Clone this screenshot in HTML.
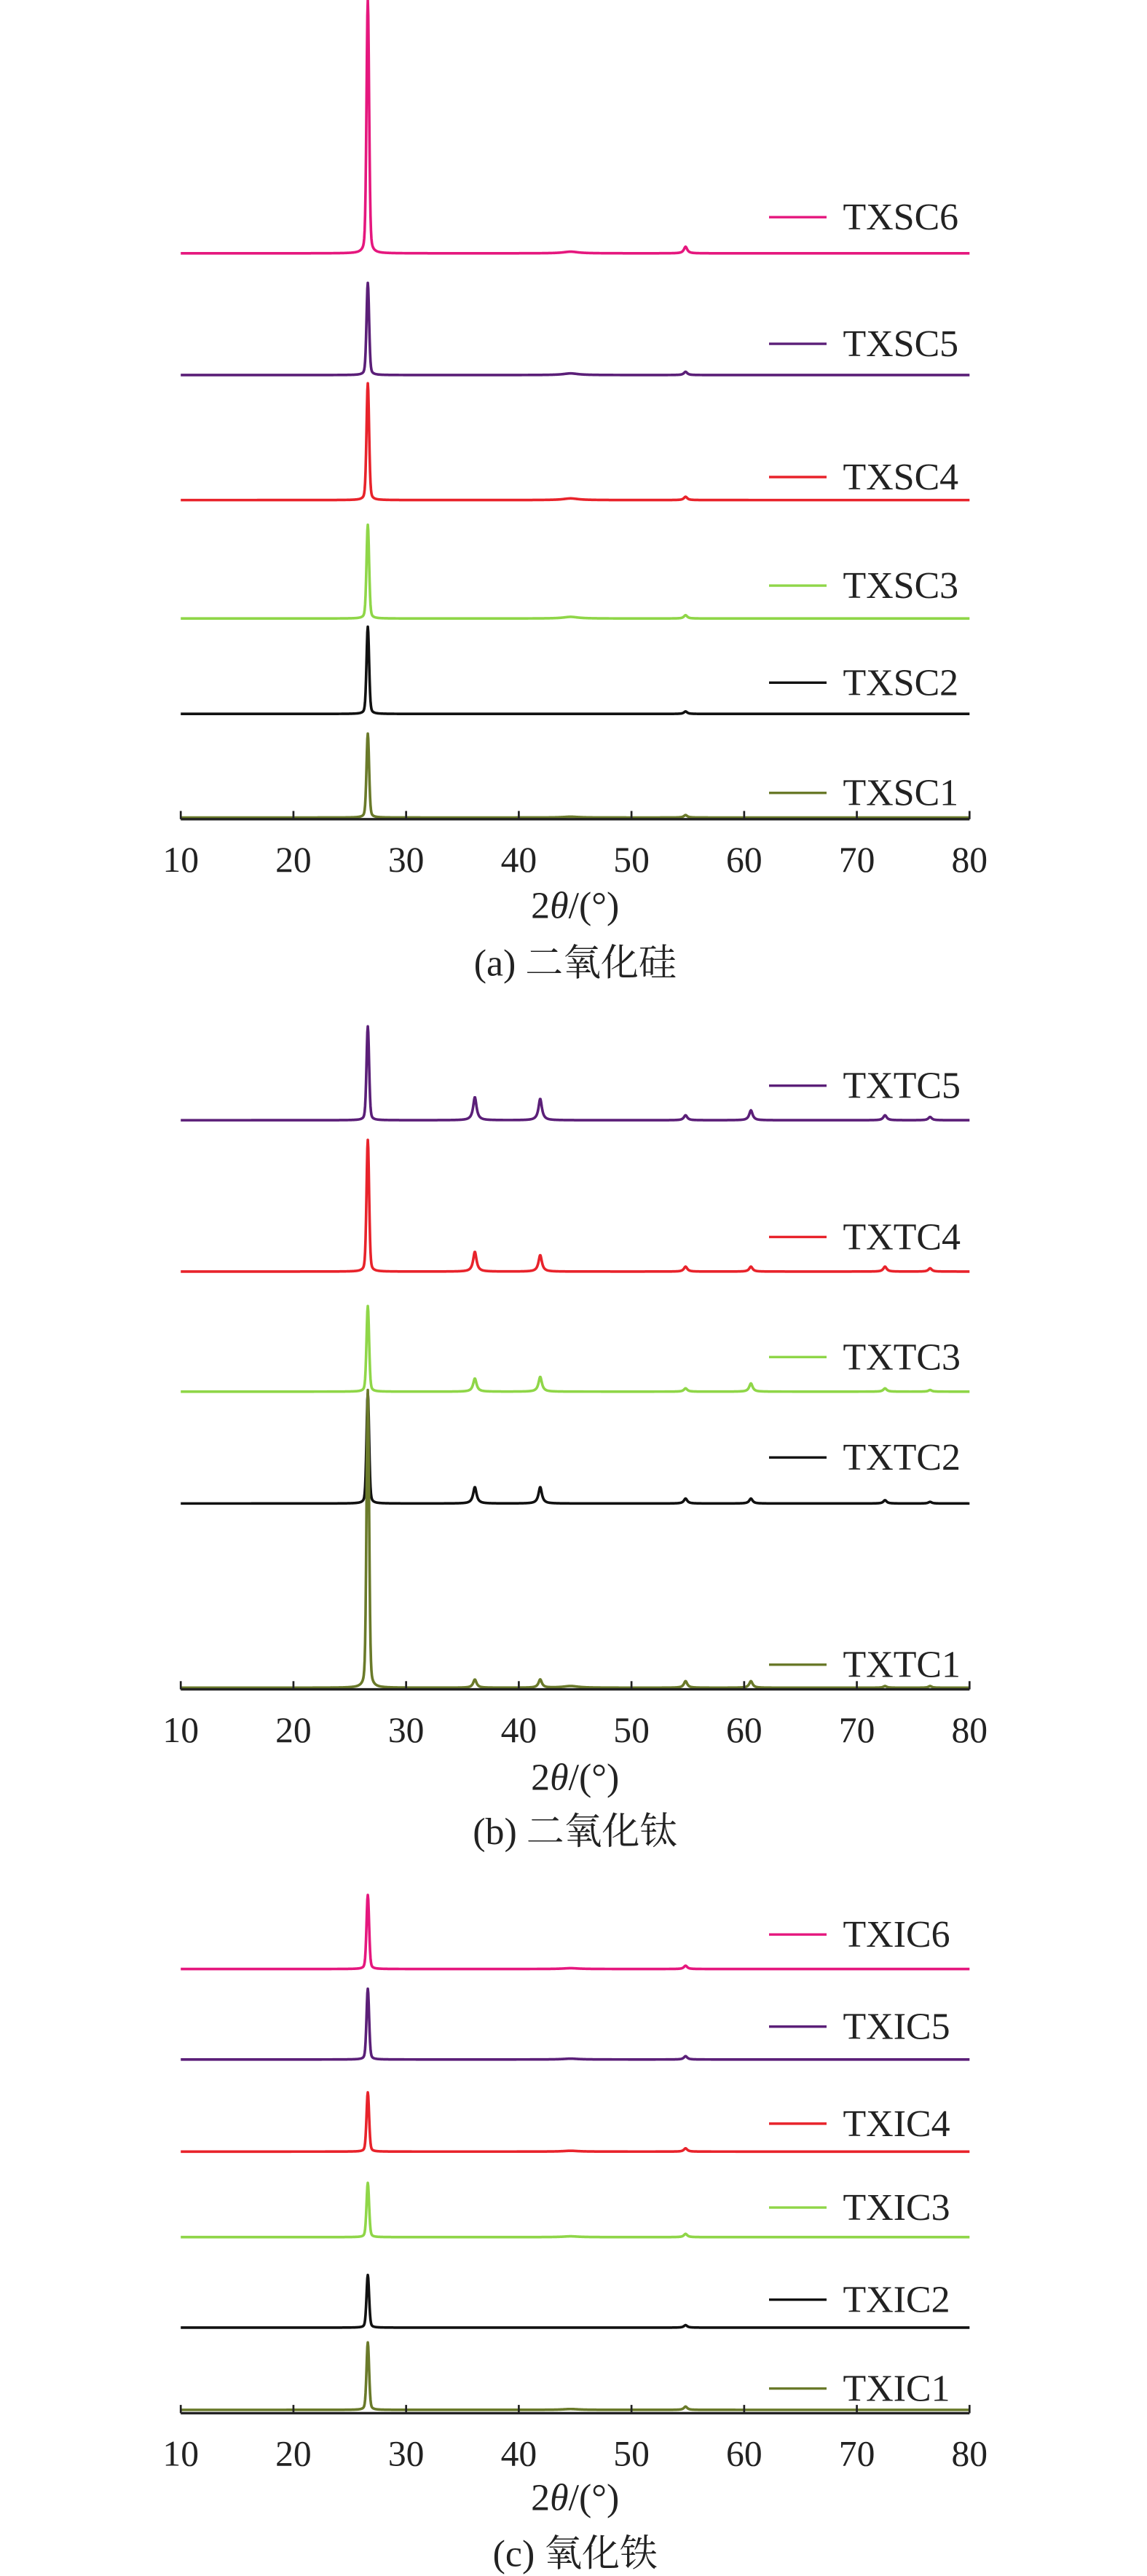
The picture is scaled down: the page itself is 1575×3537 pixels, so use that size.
<!DOCTYPE html>
<html><head><meta charset="utf-8"><style>
html,body{margin:0;padding:0;background:#fff;}
svg{display:block;}
text{font-family:"Liberation Serif","Noto Serif CJK SC",serif;fill:#222;}
</style></head><body>
<svg id="fig" width="1575" height="3537" viewBox="0 0 698 1566" preserveAspectRatio="none" xmlns="http://www.w3.org/2000/svg"></svg>
<script>
// ---- data ----
const ticks = [10,20,30,40,50,60,70,80];
const peakPos = [26.6, 36.1, 41.9, 44.6, 54.8, 60.6, 72.5, 76.5];
// panel a (SiO2)
const aNames = ["TXSC6","TXSC5","TXSC4","TXSC3","TXSC2","TXSC1"];
const aBase = [154,228,304,376,434,497];
const aMain = [154,56,71,57,53,51];
const aMinor = [[0,0,0,1,4,0,0,0],[0,0,0,1,2,0,0,0],[0,0,0,1,2,0,0,0],[0,0,0,1,2,0,0,0],[0,0,0,0,1.5,0,0,0],[0,0,0,0.5,1.5,0,0,0]];
const aLegY = [132,209,290,356,415,482];
// panel b (TiO2)
const bNames = ["TXTC5","TXTC4","TXTC3","TXTC2","TXTC1"];
const bBase = [681,773,846,914,1026];
const bMain = [57,80,52,67,181];
const bMinor = [[0,14,13,0,3,6,3,2],[0,12,10,0,3,3,3,2],[0,8,9,0,2,5,2,1],[0,10,10,0,3,3,2,1],[0,5,5,1,4,4,1,1]];
const bLegY = [660,752,825,886,1012];
// panel c (Fe oxide)
const cNames = ["TXIC6","TXIC5","TXIC4","TXIC3","TXIC2","TXIC1"];
const cBase = [1197,1252,1308,1360,1415,1465];
const cMain = [45,43,36,33,32,41];
const cMinor = [[0,0,0,0.5,2,0,0,0],[0,0,0,0.5,2,0,0,0],[0,0,0,0.5,2,0,0,0],[0,0,0,0.5,2,0,0,0],[0,0,0,0,1.5,0,0,0],[0,0,0,0.5,2,0,0,0]];
const cLegY = [1176,1232,1291,1342,1398,1452];
const colors6 = ["#e5177e","#5b1f78","#e8232b","#8fd648","#111111","#6a7a2a"];
const colors5 = ["#5b1f78","#e8232b","#8fd648","#111111","#6a7a2a"];

const svg = document.getElementById('fig');
const NS = "http://www.w3.org/2000/svg";
const X0=110, X1=590;
function xs(v){ return X0 + (v-10)*(X1-X0)/70; }
function mk(tag, attrs){ const e=document.createElementNS(NS,tag); for(const k in attrs) e.setAttribute(k,attrs[k]); svg.appendChild(e); return e; }

function profile(x, main, minor){
  const g = Math.exp(-Math.pow((x-peakPos[0])/0.16,2));
  let y = main*(0.75*g + 0.25/(1+Math.pow((x-peakPos[0])/0.15,2)));
  for(let i=1;i<peakPos.length;i++){
    const w = i===3 ? 0.8 : 0.18;
    y += minor[i]/(1+Math.pow((x-peakPos[i])/w,2));
  }
  return y;
}

function panel(key, names, base, main, minor, legY, colors, axisY){
  names.forEach((n,i)=>{
    let d="";
    for(let v=10; v<=80.001; v+=0.04){
      const y = base[i] - profile(v, main[i], minor[i]);
      d += (d?"L":"M") + xs(v).toFixed(2) + "," + y.toFixed(2);
    }
    const p = mk('path',{d:d,fill:"none",stroke:colors[i],"stroke-width":1.6,"stroke-linejoin":"round"});
    
    
    const l = mk('line',{x1:468,x2:503,y1:legY[i],y2:legY[i],stroke:colors[i],"stroke-width":1.5});
    
    
    const t = mk('text',{x:513,y:legY[i]+7.5,"font-size":23});
    t.textContent = n;
    
    
  });
  const ax = mk('line',{x1:X0,x2:X1,y1:axisY,y2:axisY,stroke:"#222","stroke-width":1.5});
  
  
  ticks.forEach(v=>{
    const tk = mk('line',{x1:xs(v),x2:xs(v),y1:axisY,y2:axisY-5,stroke:"#222","stroke-width":1.2});
    
    
    const tl = mk('text',{x:xs(v),y:axisY+32,"font-size":22,"text-anchor":"middle"});
    tl.textContent = v;
    
    
  });
}
panel('a', aNames, aBase, aMain, aMinor, aLegY, colors6, 498);
panel('b', bNames, bBase, bMain, bMinor, bLegY, colors5, 1027);
panel('c', cNames, cBase, cMain, cMinor, cLegY, colors6, 1467);

function label(y, html, name){
  const t = mk('text',{x:350,y:y,"font-size":23,"text-anchor":"middle"});
  t.innerHTML = html;
  
  
}
label(558, '2<tspan font-style="italic">θ</tspan>/(°)', 'a-x-axis-title');
label(593, '(a) 二氧化硅', 'a-caption');
label(1088, '2<tspan font-style="italic">θ</tspan>/(°)', 'b-x-axis-title');
label(1121, '(b) 二氧化钛', 'b-caption');
label(1526, '2<tspan font-style="italic">θ</tspan>/(°)', 'c-x-axis-title');
label(1560, '(c) 氧化铁', 'c-caption');
</script>
</body></html>
